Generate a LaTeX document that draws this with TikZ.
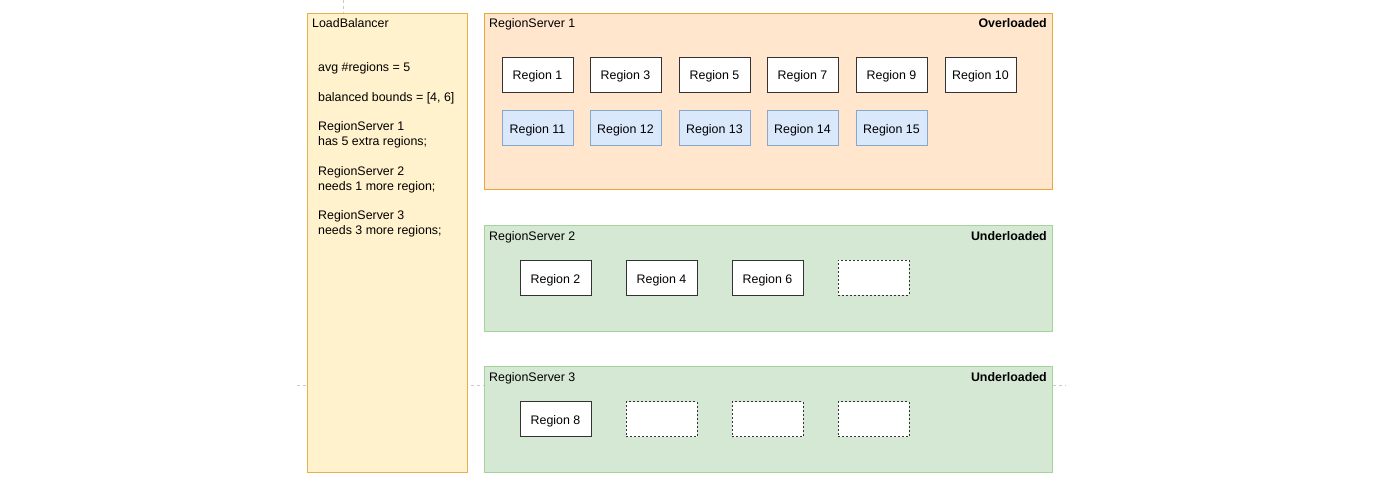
\documentclass[tikz,border=0pt]{standalone}
\usepackage{fontspec}
\setmainfont{Liberation Sans}
\definecolor{lbfill}{HTML}{FFF2CC}
\definecolor{lbdraw}{HTML}{E8B04A}
\definecolor{orfill}{HTML}{FFE6CC}
\definecolor{ordraw}{HTML}{E8A73A}
\definecolor{grfill}{HTML}{D5E8D4}
\definecolor{grdraw}{HTML}{A6D39A}
\definecolor{blfill}{HTML}{DAE8FC}
\definecolor{bldraw}{HTML}{8AA6CF}
\definecolor{guide}{HTML}{C8C8C8}
\tikzset{
  x=1pt, y=-1pt,
  every node/.style={font=\fontsize{12.4}{14}\selectfont, inner sep=0pt, text depth=0pt},
  panel/.style={line width=0.9pt},
  regbox/.style={draw=black!80, fill=white, line width=0.9pt, minimum width=71pt, minimum height=35pt, text height=11pt},
  newbox/.style={draw=bldraw, fill=blfill, line width=0.9pt, minimum width=71pt, minimum height=35pt, text height=11pt},
  emptybox/.style={draw=black!80, fill=white, line width=0.8pt, dash pattern=on 2pt off 2pt, minimum width=71pt, minimum height=35pt},
  title/.style={anchor=west},
  status/.style={anchor=east, font=\fontsize{12.4}{14}\selectfont\bfseries},
  lbtext/.style={anchor=west}
}
\begin{document}
\begin{tikzpicture}
\useasboundingbox (0,0) rectangle (1400,484);
% faint guides
\draw[guide, dashed, line width=0.5pt] (297,385) -- (1066,385);
\draw[guide, dashed, line width=0.5pt] (343,0) -- (343,13);
% panels
\path[panel, draw=lbdraw, fill=lbfill] (307,13) rectangle (467,472);
\node[title] (lbt) at (312,23) {LoadBalancer};
\node[lbtext] (l1) at (318,67) {avg \#regions = 5};
\node[lbtext] (l2) at (318,97) {balanced bounds = [4, 6]};
\node[lbtext] (l3) at (318,126) {RegionServer 1};
\node[lbtext] (l4) at (318,141) {has 5 extra regions;};
\node[lbtext] (l5) at (318,171) {RegionServer 2};
\node[lbtext] (l6) at (318,186) {needs 1 more region;};
\node[lbtext] (l7) at (318,215) {RegionServer 3};
\node[lbtext] (l8) at (318,230) {needs 3 more regions;};

\path[panel, draw=ordraw, fill=orfill] (484,13) rectangle (1052,189);
\node[title] (rs1) at (489,23) {RegionServer 1};
\node[status] (st1) at (1047,23) {Overloaded};

\path[panel, draw=grdraw, fill=grfill] (484,225) rectangle (1052,331);
\node[title] (rs2) at (489,236) {RegionServer 2};
\node[status] (st2) at (1047,236) {Underloaded};

\path[panel, draw=grdraw, fill=grfill] (484,366) rectangle (1052,472);
\node[title] (rs3) at (489,377) {RegionServer 3};
\node[status] (st3) at (1047,377) {Underloaded};

% RS1 regions
\node[regbox] (r1) at (537.5,74.5) {Region 1};
\node[regbox] (r3) at (625.5,74.5) {Region 3};
\node[regbox] (r5) at (714.5,74.5) {Region 5};
\node[regbox] (r7) at (802.5,74.5) {Region 7};
\node[regbox] (r9) at (891.5,74.5) {Region 9};
\node[regbox] (r10) at (980.5,74.5) {Region 10};
\node[newbox] (r11) at (537.5,128) {Region 11};
\node[newbox] (r12) at (625.5,128) {Region 12};
\node[newbox] (r13) at (714.5,128) {Region 13};
\node[newbox] (r14) at (802.5,128) {Region 14};
\node[newbox] (r15) at (891.5,128) {Region 15};

% RS2 regions
\node[regbox] (r2) at (555.5,277.5) {Region 2};
\node[regbox] (r4) at (661.5,277.5) {Region 4};
\node[regbox] (r6) at (767.5,277.5) {Region 6};
\node[emptybox] (e21) at (873.5,277.5) {};

% RS3 regions
\node[regbox] (r8) at (555.5,419) {Region 8};
\node[emptybox] (e31) at (661.5,419) {};
\node[emptybox] (e32) at (767.5,419) {};
\node[emptybox] (e33) at (873.5,419) {};
\end{tikzpicture}
\end{document}
